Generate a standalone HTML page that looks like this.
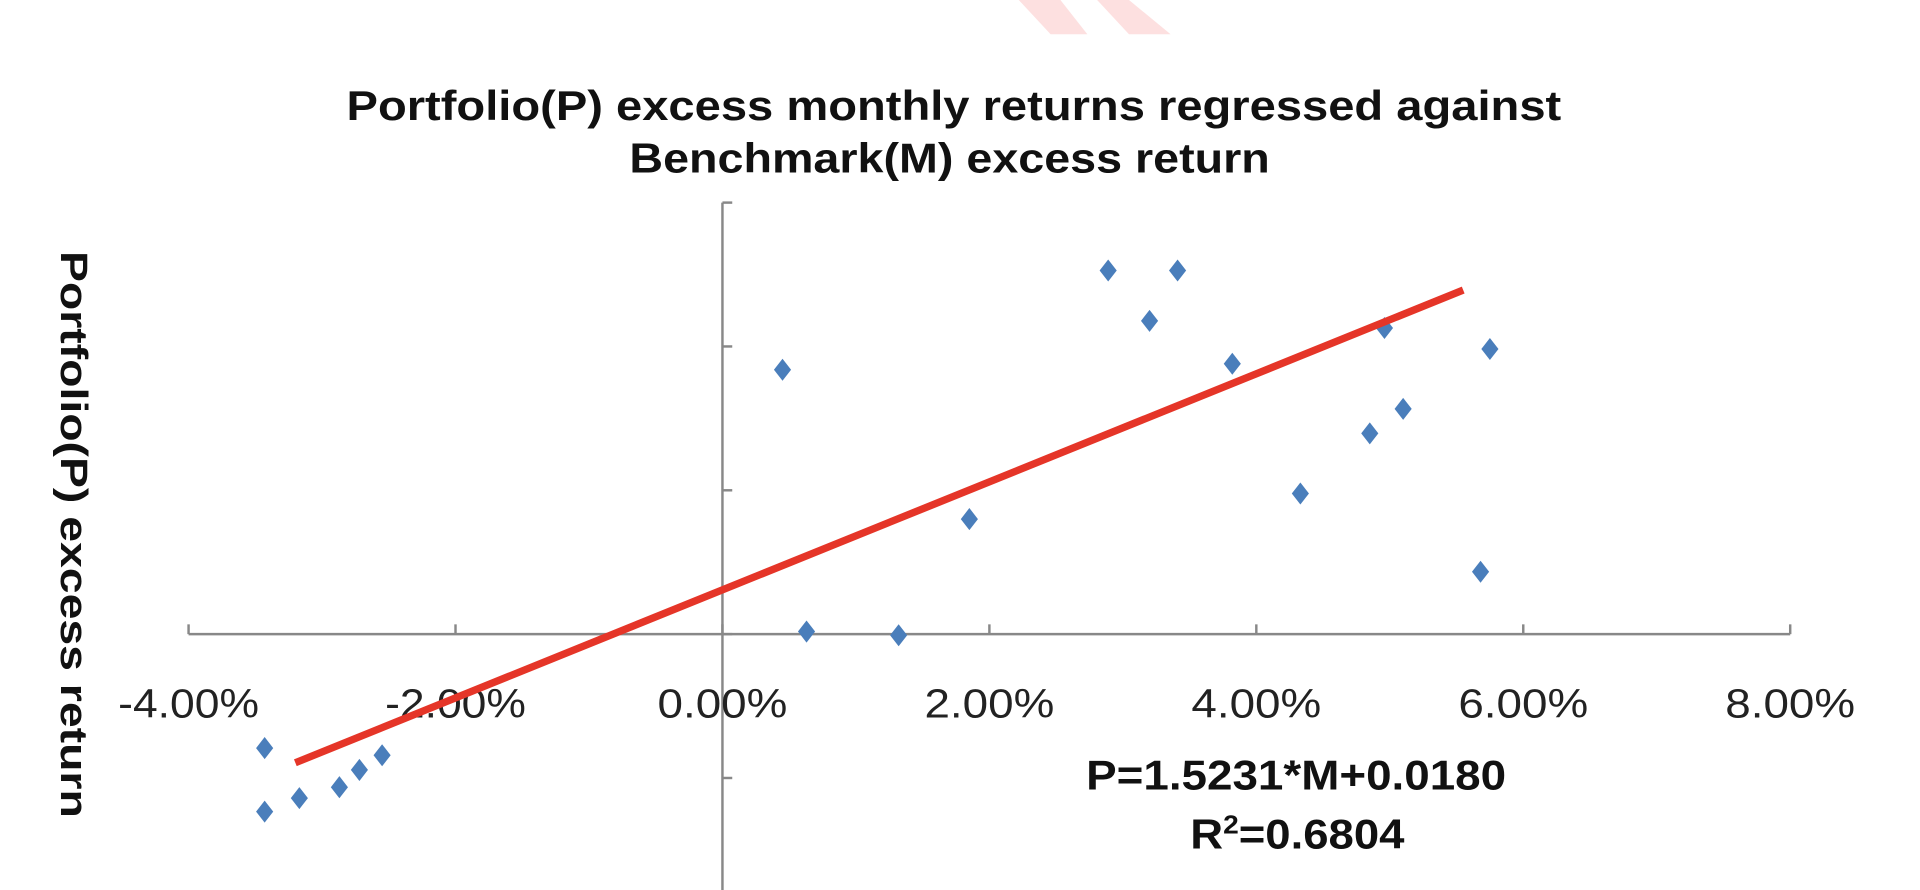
<!DOCTYPE html>
<html><head><meta charset="utf-8"><style>
html,body{margin:0;padding:0;background:#fff;}
svg{display:block;font-family:"Liberation Sans",Arial,sans-serif;}
</style></head><body>
<svg id="chart" width="1920" height="890" viewBox="0 0 1568 727" preserveAspectRatio="none" xmlns="http://www.w3.org/2000/svg">
<polygon points="832,0 866,0 888,28 858,28" fill="#fde0e0"/>
<polygon points="896,0 922,0 956,28 922,28" fill="#fde0e0"/>
<text x="283" y="98" textLength="992" lengthAdjust="spacingAndGlyphs" font-size="34" font-weight="bold" fill="#111">Portfolio(P) excess monthly returns regressed against</text>
<text x="514" y="141" textLength="523" lengthAdjust="spacingAndGlyphs" font-size="34" font-weight="bold" fill="#111">Benchmark(M) excess return</text>
<text transform="translate(50,205) rotate(90)" textLength="463" lengthAdjust="spacingAndGlyphs" font-size="31" font-weight="bold" fill="#111">Portfolio(P) excess return</text>
<g id="axes"></g>
<g id="marks"></g>
<text x="887" y="645" textLength="343" lengthAdjust="spacingAndGlyphs" font-size="34" font-weight="bold" fill="#111">P=1.5231*M+0.0180</text>
<text x="972" y="693" textLength="175" lengthAdjust="spacingAndGlyphs" font-size="34" font-weight="bold" fill="#111">R<tspan font-size="21" dy="-12">2</tspan><tspan dy="12">=0.6804</tspan></text>
</svg>
<script>
const xTicks = [-4, -2, 0, 2, 4, 6, 8];
const yTicks = [-5, 0, 5, 10, 15];
const benchmarkM = [-3.43,-3.43,-3.17,-2.87,-2.72,-2.55,0.45,0.63,1.32,1.85,2.89,3.41,3.20,3.82,4.33,4.85,4.96,5.10,5.68,5.75];
const portfolioP = [-3.96,-6.17,-5.70,-5.32,-4.72,-4.21,9.19,0.09,-0.04,4.00,12.64,12.64,10.89,9.40,4.89,6.98,10.64,7.83,2.17,9.91];
const trendM = [-3.2, 5.55];
const trendP = [-4.47, 11.96];

const NS = "http://www.w3.org/2000/svg";
const X0 = 590, XPX = 109.0, Y0 = 518, YPX = 23.5;
function xs(v){ return X0 + v * XPX; }
function ys(v){ return Y0 - v * YPX; }
function mk(tag, attrs, parent){ const e = document.createElementNS(NS, tag); for (const k in attrs) e.setAttribute(k, attrs[k]); parent.appendChild(e); return e; }
const axes = document.getElementById('axes');
const marks = document.getElementById('marks');

const xa = mk('line', {x1: xs(-4), y1: Y0, x2: xs(8), y2: Y0, stroke: '#888', 'stroke-width': 2}, axes);


const ya = mk('line', {x1: X0, y1: ys(15), x2: X0, y2: 727, stroke: '#888', 'stroke-width': 2}, axes);



xTicks.forEach(function(t){
  const tk = mk('line', {x1: xs(t), y1: Y0 - 8, x2: xs(t), y2: Y0, stroke: '#888', 'stroke-width': 2}, axes);
  
  
  const lb = mk('text', {x: xs(t), y: 586, 'text-anchor': 'middle', 'font-size': 33, fill: '#222', textLength: (t < 0 ? 115 : 106), lengthAdjust: 'spacingAndGlyphs'}, axes);
  lb.textContent = t.toFixed(2) + '%';
  
  
});
yTicks.forEach(function(t){
  const tk = mk('line', {x1: X0, y1: ys(t), x2: X0 + 8, y2: ys(t), stroke: '#888', 'stroke-width': 2}, axes);
  
  
});

benchmarkM.forEach(function(m, i){
  const cx = xs(m), cy = ys(portfolioP[i]);
  const d = mk('polygon', {points: cx + ',' + (cy - 9) + ' ' + (cx + 7) + ',' + cy + ' ' + cx + ',' + (cy + 9) + ' ' + (cx - 7) + ',' + cy, fill: '#4a7ebb'}, marks);
  
  
});

const tl = mk('line', {x1: xs(trendM[0]), y1: ys(trendP[0]), x2: xs(trendM[1]), y2: ys(trendP[1]), stroke: '#e53528', 'stroke-width': 6}, marks);


</script>
</body></html>
